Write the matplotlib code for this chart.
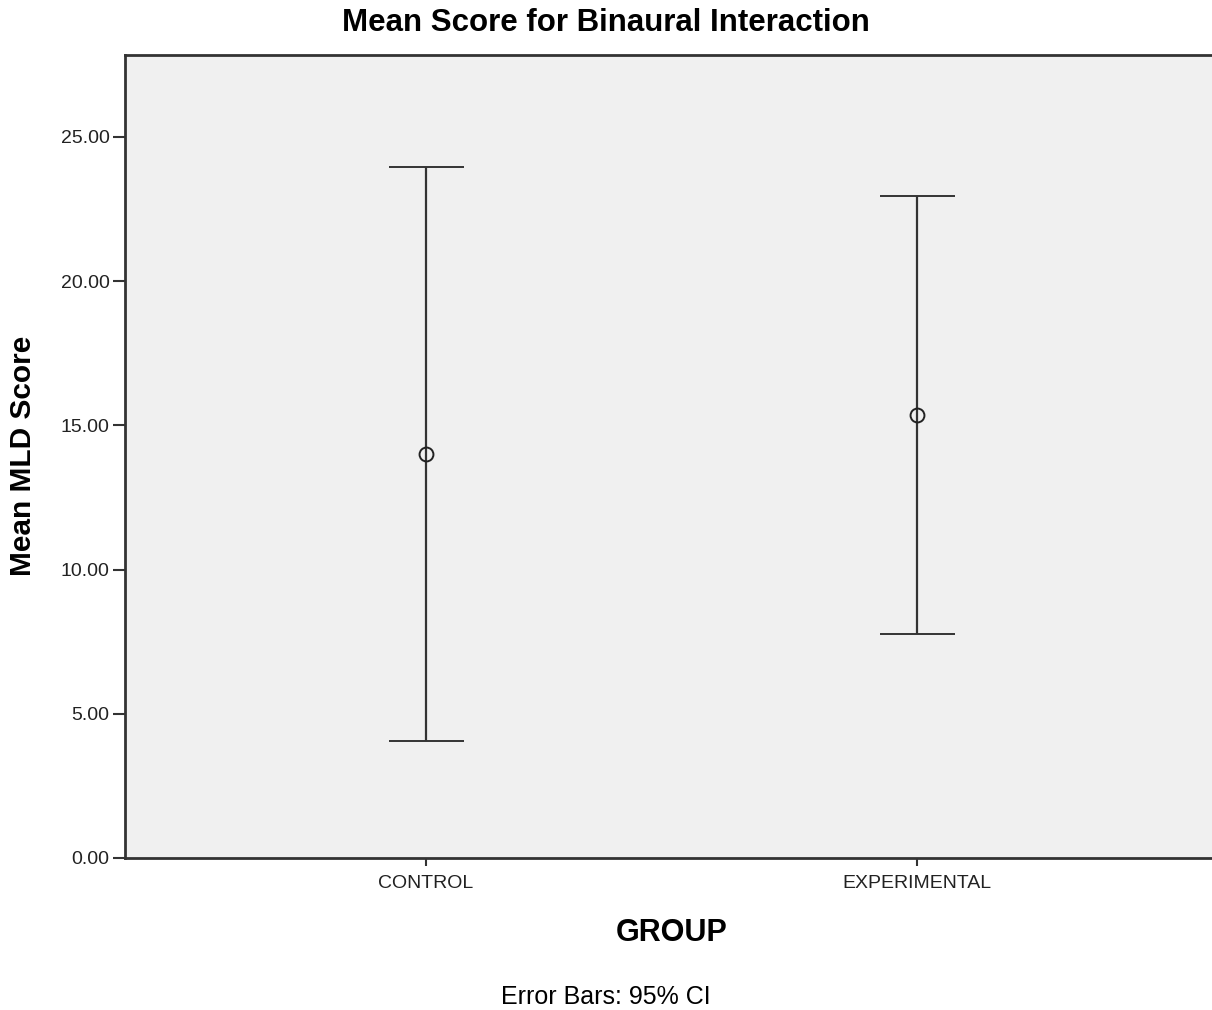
import numpy as np
import matplotlib.pyplot as plt

groups = ['CONTROL', 'EXPERIMENTAL']
means = [14.01, 15.35]
ci_low = [4.06, 7.77]
ci_high = [23.96, 22.95]

plt.rcParams['font.family'] = ['Liberation Sans', 'DejaVu Sans']

fig = plt.figure(figsize=(12.12, 10.10), dpi=100)
# axes run a little past the right edge of the figure
ax = fig.add_axes([0.1031, 0.1505, 0.9018, 0.795])
ax.set_facecolor('#f0f0f0')

x = np.arange(1, len(groups) + 1)
means = np.array(means)
yerr = [means - np.array(ci_low), np.array(ci_high) - means]

ax.errorbar(x, means, yerr=yerr, fmt='o', color='#333333', ecolor='#333333',
            elinewidth=1.6, capsize=27, capthick=1.6,
            markersize=10, markerfacecolor='none', markeredgecolor='#222222',
            markeredgewidth=1.4)

ax.set_xlim(0.387, 2.613)
ax.set_ylim(0, 27.84)
ax.set_yticks([0, 5, 10, 15, 20, 25])
ax.set_yticklabels(['%.2f' % v for v in [0, 5, 10, 15, 20, 25]])
ax.set_xticks(x)
ax.set_xticklabels(groups)

for s in ax.spines.values():
    s.set_color('#333333')
    s.set_linewidth(2)

ax.tick_params(axis='y', length=9, width=1.5, color='#333333', labelcolor='#222222',
               labelsize=14, pad=2)
ax.tick_params(axis='x', length=6, width=1.5, color='#333333', labelcolor='#222222',
               labelsize=14, pad=6)

fig.text(23 / 1212, 0.5485, 'Mean MLD Score', rotation=90, ha='center', va='center',
         fontsize=21.5, fontweight='bold')
fig.text(672 / 1212, 0.0762, 'GROUP', ha='center', va='center',
         fontsize=22, fontweight='bold')
fig.text(0.5, 0.977, 'Mean Score for Binaural Interaction', ha='center', va='center',
         fontsize=22.5, fontweight='bold')
fig.text(0.5, 0.0129, 'Error Bars: 95% CI', ha='center', va='center', fontsize=18)

plt.savefig('out.png', dpi=100)
